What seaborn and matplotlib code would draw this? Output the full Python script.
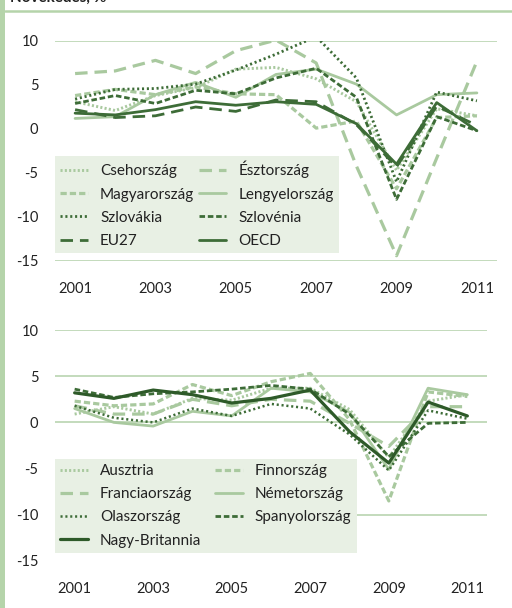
import matplotlib
matplotlib.use('Agg')
import matplotlib.pyplot as plt
from matplotlib.lines import Line2D
from matplotlib.patches import Rectangle
import seaborn as sns
import pandas as pd

years = [2001, 2002, 2003, 2004, 2005, 2006, 2007, 2008, 2009, 2010, 2011]
year_ticks = [2001, 2003, 2005, 2007, 2009, 2011]
y_ticks = [10, 5, 0, -5, -10, -15]

# felső panel
cseh = [3.1, 2.1, 3.8, 4.7, 6.8, 7.0, 5.7, 3.1, -4.7, 2.3, 1.5]
eszt = [6.3, 6.6, 7.8, 6.3, 8.9, 10.1, 7.5, -4.2, -14.4, -3.3, 7.7]
magyar = [3.8, 4.5, 3.9, 4.8, 4.0, 3.9, 0.1, 0.9, -6.8, 1.3, 1.5]
lengyel = [1.2, 1.4, 3.9, 5.3, 3.6, 6.2, 6.8, 5.1, 1.6, 3.9, 4.1]
szlovakia = [3.4, 4.5, 4.6, 5.1, 6.7, 8.5, 10.5, 5.8, -6.0, 4.2, 3.2]
szlovenia = [2.9, 3.8, 2.9, 4.4, 4.0, 5.8, 6.9, 3.6, -8.0, 1.4, -0.2]
eu27 = [2.2, 1.3, 1.5, 2.5, 2.0, 3.3, 3.1, 0.5, -4.3, 2.6, 0.4]
oecd = [1.8, 1.6, 2.2, 3.1, 2.7, 3.1, 2.8, 0.6, -4.0, 3.0, -0.2]

# alsó panel
ausztria = [0.9, 1.7, 0.9, 2.6, 2.4, 3.7, 3.7, 1.4, -3.8, 2.3, 3.0]
finn = [2.3, 1.8, 2.0, 4.1, 2.9, 4.4, 5.3, 0.3, -8.5, 3.3, 2.8]
francia = [1.8, 0.9, 0.9, 2.5, 1.8, 2.5, 2.3, -0.1, -2.6, 1.7, 1.7]
nemet = [1.5, 0.0, -0.4, 1.2, 0.7, 3.7, 3.3, 1.1, -5.1, 3.7, 3.0]
olasz = [1.8, 0.5, 0.0, 1.5, 0.7, 2.0, 1.5, -1.3, -5.2, 1.3, 0.4]
spanyol = [3.6, 2.7, 3.1, 3.3, 3.6, 4.0, 3.6, 0.9, -3.7, -0.1, 0.0]
brit = [3.2, 2.6, 3.5, 3.0, 2.1, 2.6, 3.5, -1.0, -4.4, 2.2, 0.7]

LIGHT = '#a9c99f'
DARK = '#3d6c37'
DARKER = '#2e5a29'
GRID = '#b3d1a9'
FRAME = '#b5d4aa'
LEG_BG = '#e8f0e4'

DOT = (0, (1.5, 1.6))
DOT_DARK = (0, (1.5, 2.0))
DASH = (0, (4.5, 2.2))
DASH_DARK = (0, (4.0, 2.0))
LONG = (0, (9, 5))

sns.set_theme(style='white')
plt.rcParams['font.family'] = ['Lato', 'DejaVu Sans']
plt.rcParams['lines.scale_dashes'] = False

top_series = [
    ('Csehország', cseh, LIGHT, DOT, 2.1),
    ('Észtország', eszt, LIGHT, LONG, 2.3),
    ('Magyarország', magyar, LIGHT, DASH, 2.3),
    ('Lengyelország', lengyel, LIGHT, '-', 2.0),
    ('Szlovákia', szlovakia, DARK, DOT_DARK, 2.0),
    ('Szlovénia', szlovenia, DARK, DASH_DARK, 2.0),
    ('EU27', eu27, DARK, LONG, 2.0),
    ('OECD', oecd, DARK, '-', 2.0),
]
bottom_series = [
    ('Ausztria', ausztria, LIGHT, DOT, 2.1),
    ('Finnország', finn, LIGHT, DASH, 2.3),
    ('Franciaország', francia, LIGHT, LONG, 2.3),
    ('Németország', nemet, LIGHT, '-', 2.0),
    ('Olaszország', olasz, DARK, DOT_DARK, 1.8),
    ('Spanyolország', spanyol, DARK, DASH_DARK, 2.0),
    ('Nagy-Britannia', brit, DARKER, '-', 2.3),
]

fig = plt.figure(figsize=(5.12, 6.08), dpi=100)
ax_top = fig.add_axes([55 / 512, 1 - 261 / 608, 442 / 512, 220 / 608])
ax_bot = fig.add_axes([55 / 512, 1 - 561 / 608, 432 / 512, 231 / 608])


def draw_panel(ax, series, grid_levels, order, colspace):
    for y in grid_levels:
        ax.axhline(y, color=GRID, lw=1.1, zorder=0)
    handles = {}
    for name, vals, color, ls, lw in series:
        df = pd.DataFrame({'ev': years, 'ertek': vals})
        sns.lineplot(data=df, x='ev', y='ertek', ax=ax, color=color,
                     linestyle=ls, lw=lw, label=name, legend=False)
        handles[name] = ax.lines[-1]
    ax.set_xlim(2000.5, 2011.5)
    ax.set_ylim(-15, 10)
    ax.set_xticks(year_ticks)
    ax.set_xticklabels([str(y) for y in year_ticks])
    ax.set_yticks(y_ticks)
    ax.set_yticklabels([str(y) for y in y_ticks])
    ax.tick_params(axis='x', length=0, pad=15, labelsize=10.5, colors='#222222')
    ax.tick_params(axis='y', length=0, pad=12, labelsize=10.5, colors='#222222')
    ax.set_xlabel('')
    ax.set_ylabel('')
    for s in ax.spines.values():
        s.set_visible(False)
    ax.grid(False)
    leg = ax.legend([handles[n] for n in order], order, ncol=2,
                    loc='lower left', bbox_to_anchor=(0, 0.035),
                    borderaxespad=0, frameon=True, fancybox=False,
                    facecolor=LEG_BG, edgecolor='none', framealpha=1,
                    fontsize=11, handlelength=1.8, handletextpad=0.8,
                    columnspacing=colspace, labelspacing=0.6,
                    borderpad=0.35)
    for t in leg.get_texts():
        t.set_color('#222222')
    leg.set_zorder(5)


draw_panel(ax_top, top_series, [10, -15],
           ['Csehország', 'Magyarország', 'Szlovákia', 'EU27',
            'Észtország', 'Lengyelország', 'Szlovénia', 'OECD'], 0.3)
draw_panel(ax_bot, bottom_series, [10, 5, 0, -10],
           ['Ausztria', 'Franciaország', 'Olaszország', 'Nagy-Britannia',
            'Finnország', 'Németország', 'Spanyolország'], 0.9)

# keret és levágott cím
fig.add_artist(Rectangle((0, 0), 5 / 512, 1, transform=fig.transFigure,
                         color=FRAME, lw=0))
fig.add_artist(Line2D([5 / 512, 1], [1 - 11 / 608, 1 - 11 / 608],
                      transform=fig.transFigure, color=FRAME, lw=1.8))
fig.text(10 / 512, 1 - 5 / 608, 'Növekedés, %', fontsize=11,
         fontweight='bold', va='bottom', ha='left', color='#222222')

fig.savefig('out.png', dpi=100)
